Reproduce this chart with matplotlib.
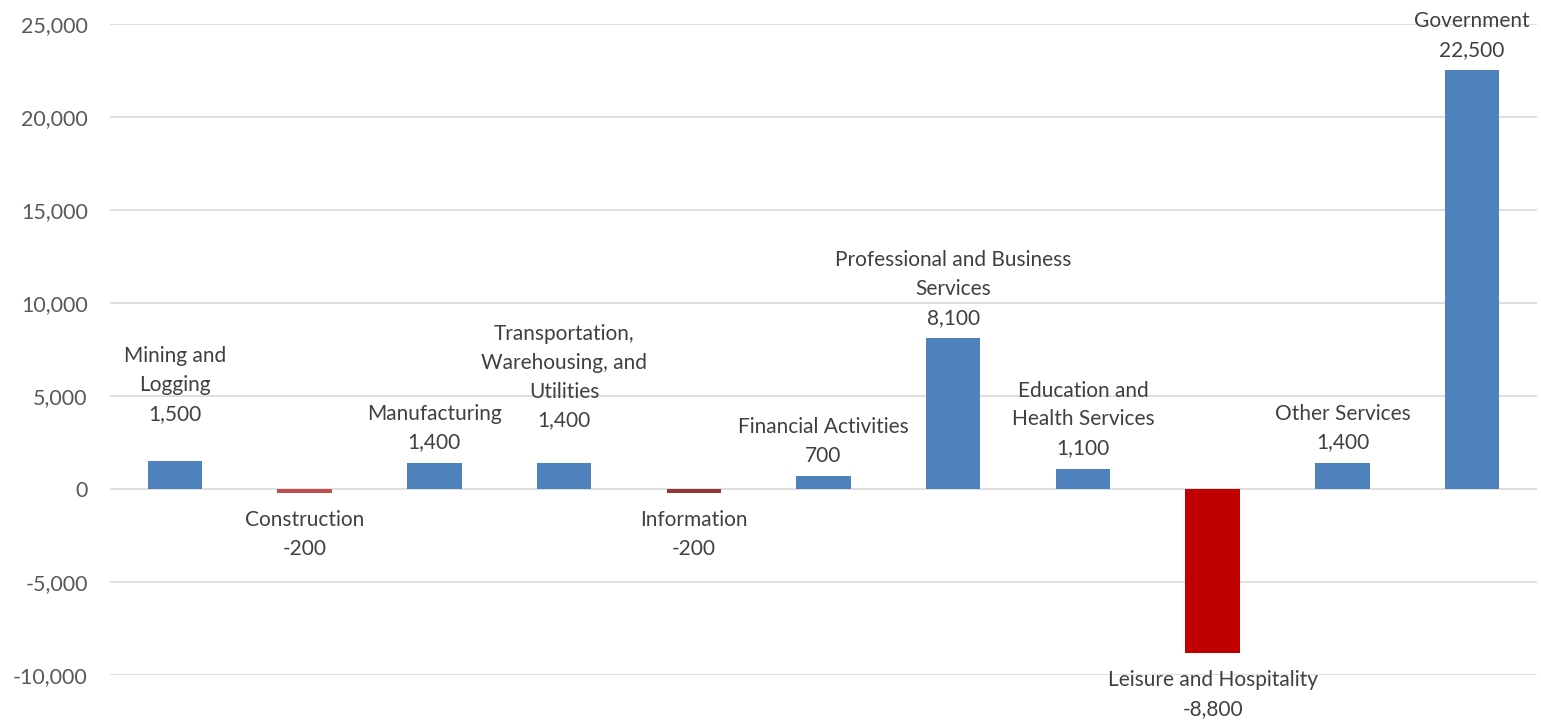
import matplotlib.pyplot as plt
from matplotlib.ticker import FuncFormatter

# Job change by industry
categories = ["Mining and\nLogging", "Construction", "Manufacturing",
              "Transportation,\nWarehousing, and\nUtilities", "Information",
              "Financial Activities", "Professional and Business\nServices",
              "Education and\nHealth Services", "Leisure and Hospitality",
              "Other Services", "Government"]
values = [1500, -200, 1400, 1400, -200, 700, 8100, 1100, -8800, 1400, 22500]
colors = ["#4f81bd", "#c0504d", "#4f81bd", "#4f81bd", "#953735", "#4f81bd",
          "#4f81bd", "#4f81bd", "#c00000", "#4f81bd", "#4f81bd"]
yticks = [-10000, -5000, 0, 5000, 10000, 15000, 20000, 25000]

# a couple of labels were nudged up by hand in the original
extra_lift = {0: 19.5, 3: 16}

plt.rcParams['font.family'] = ['Lato', 'DejaVu Sans']

fig = plt.figure(figsize=(15.41, 7.22), dpi=100)
ax = fig.add_axes([110 / 1541, 47 / 722, 1427 / 1541, 651 / 722])

x = range(len(categories))
ax.bar(x, values, width=0.42, color=colors, zorder=3)

ax.set_xlim(-0.5, len(categories) - 0.5)
ax.set_ylim(-10000, 25000)
ax.set_yticks(yticks)
ax.yaxis.set_major_formatter(FuncFormatter(lambda v, p: f"{int(v):,}"))
ax.tick_params(axis='y', length=0, pad=16, labelsize=15.5, labelcolor="#595959")
ax.set_xticks([])
ax.grid(axis='y', color="#d9d9d9", linewidth=1.2, zorder=0)
for s in ax.spines.values():
    s.set_visible(False)

# data labels: category name plus value
for i, (cat, v) in enumerate(zip(categories, values)):
    txt = f"{cat}\n{v:,}"
    if v >= 0:
        ax.annotate(txt, (i, v), xytext=(0, 7.5 + extra_lift.get(i, 0)),
                    textcoords="offset points", ha="center", va="bottom",
                    fontsize=15, color="#404040", linespacing=1.55,
                    annotation_clip=False)
    else:
        ax.annotate(txt, (i, v), xytext=(0, -12.5), textcoords="offset points",
                    ha="center", va="top", fontsize=15, color="#404040",
                    linespacing=1.55, annotation_clip=False)

fig.savefig("out.png", dpi=100)
